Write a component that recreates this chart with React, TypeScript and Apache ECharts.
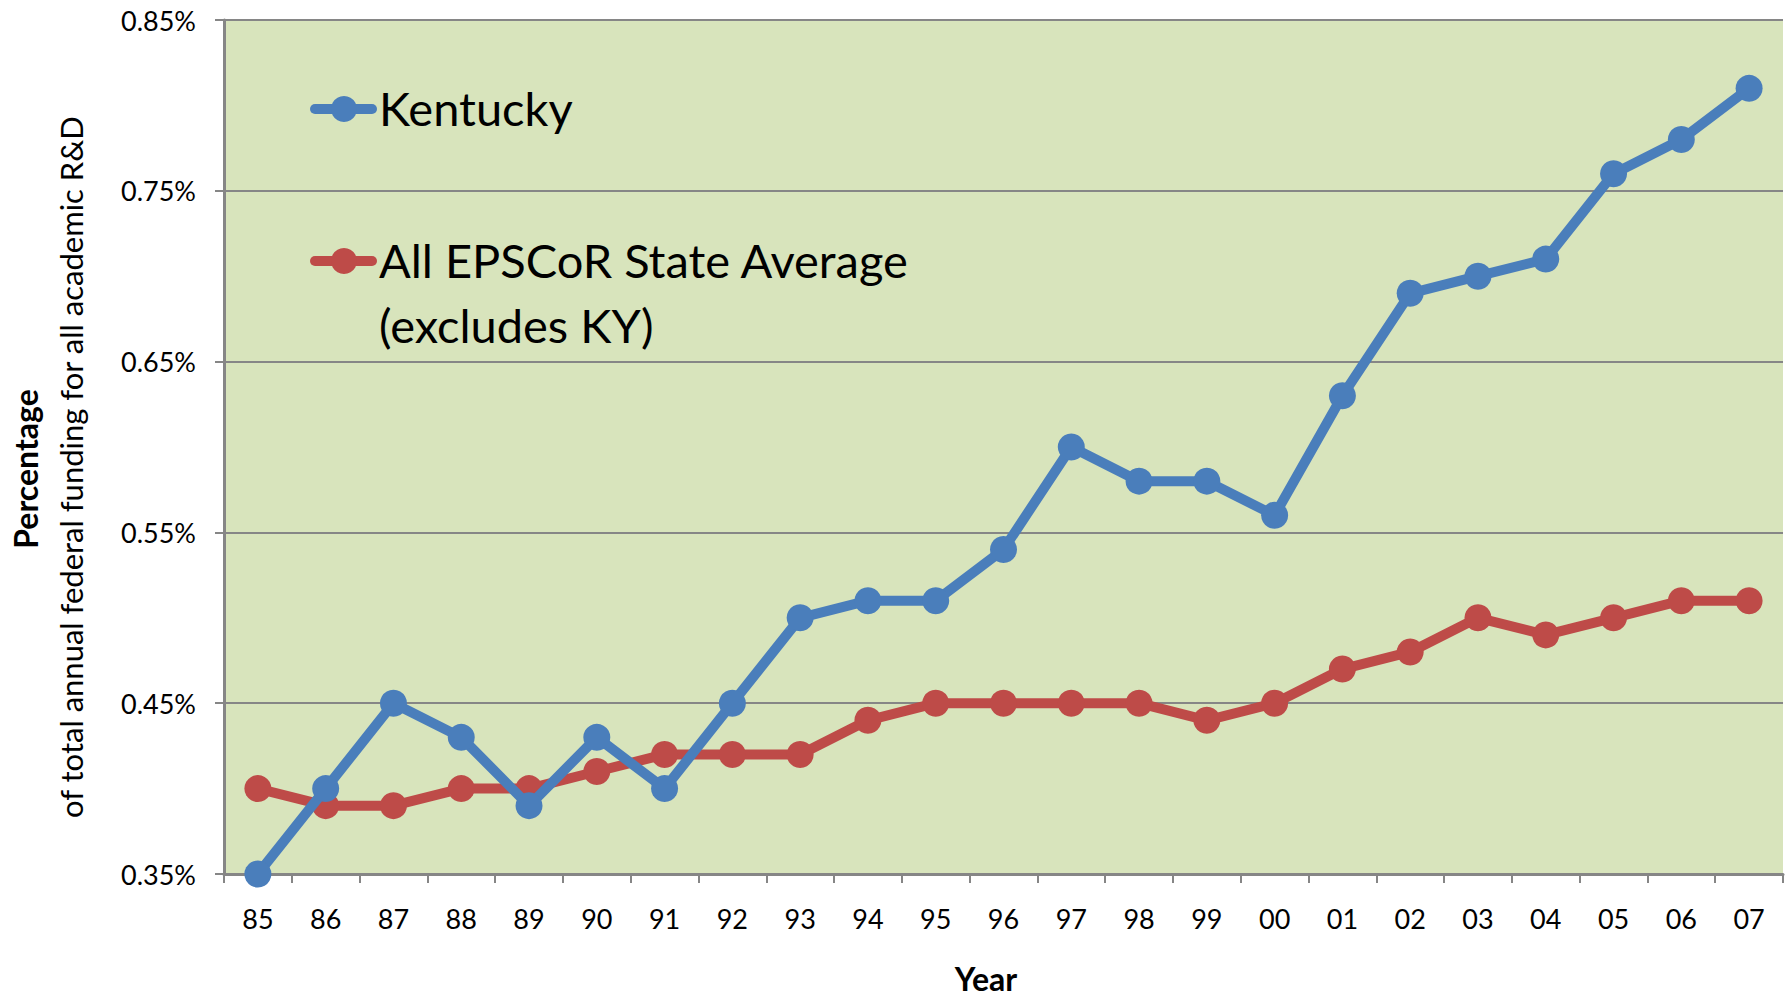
import React, { useEffect, useRef } from "react";
import * as echarts from "echarts";

const years = ["85","86","87","88","89","90","91","92","93","94","95","96","97","98","99","00","01","02","03","04","05","06","07"];
const kentucky = [0.35,0.40,0.45,0.43,0.39,0.43,0.40,0.45,0.50,0.51,0.51,0.54,0.60,0.58,0.58,0.56,0.63,0.69,0.70,0.71,0.76,0.78,0.81];
const epscor = [0.40,0.39,0.39,0.40,0.40,0.41,0.42,0.42,0.42,0.44,0.45,0.45,0.45,0.45,0.44,0.45,0.47,0.48,0.50,0.49,0.50,0.51,0.51];
const yTicks = { min: 0.35, max: 0.85, interval: 0.1 };

const BLUE = "#4A7EBB";
const RED = "#BE4B48";
const FONT = "Lato";

export default function App() {
  const ref = useRef<HTMLDivElement>(null);
  useEffect(() => {
    const chart = echarts.init(ref.current!, null, { renderer: "svg" });
    const gridLeft = 224, gridTop = 20, gridRight = 2, gridBottom = 122;
    const legendIcon = (cy: number, color: string) => [
      { type: "line", shape: { x1: 315, y1: cy, x2: 372, y2: cy }, style: { stroke: color, lineWidth: 10, lineCap: "round" } },
      { type: "circle", shape: { cx: 344, cy, r: 13 }, style: { fill: color } },
    ];
    chart.setOption({
      animation: false,
      backgroundColor: "#ffffff",
      textStyle: { fontFamily: FONT },
      grid: { left: gridLeft, top: gridTop, right: gridRight, bottom: gridBottom, show: true, backgroundColor: "#D8E4BC", borderWidth: 0 },
      xAxis: {
        type: "category",
        data: years,
        boundaryGap: true,
        axisLine: { lineStyle: { color: "#868686", width: 3 } },
        axisTick: { show: true, length: 9, lineStyle: { color: "#868686", width: 2 }, interval: 0 },
        axisLabel: { color: "#000", fontSize: 27, margin: 31, fontFamily: FONT, interval: 0 },
        splitLine: { show: false },
      },
      yAxis: {
        type: "value",
        min: yTicks.min,
        max: yTicks.max,
        interval: yTicks.interval,
        axisLine: { show: true, lineStyle: { color: "#868686", width: 3 } },
        axisTick: { show: true, length: 9, lineStyle: { color: "#868686", width: 2 } },
        axisLabel: { color: "#000", fontSize: 27, margin: 28, fontFamily: FONT, formatter: (v: number) => v.toFixed(2) + "%" },
        splitLine: { show: true, lineStyle: { color: "#868686", width: 2 } },
      },
      series: [
        {
          name: "Kentucky", type: "line", data: kentucky, color: BLUE,
          lineStyle: { width: 10, color: BLUE }, symbol: "circle", symbolSize: 27,
          itemStyle: { color: BLUE }, z: 3,
        },
        {
          name: "All EPSCoR State Average (excludes KY)", type: "line", data: epscor, color: RED,
          lineStyle: { width: 10, color: RED }, symbol: "circle", symbolSize: 27,
          itemStyle: { color: RED }, z: 2,
        },
      ],
      graphic: [
        ...legendIcon(109, BLUE),
        ...legendIcon(261, RED),
        { type: "text", x: 379, y: 108, style: { text: "Kentucky", font: `47px ${FONT}`, fill: "#000", textVerticalAlign: "middle" } },
        { type: "text", x: 379, y: 260, style: { text: "All EPSCoR State Average", font: `47px ${FONT}`, fill: "#000", textVerticalAlign: "middle" } },
        { type: "text", x: 379, y: 325, style: { text: "(excludes KY)", font: `47px ${FONT}`, fill: "#000", textVerticalAlign: "middle" } },
        { type: "text", x: 25, y: 469, rotation: Math.PI / 2, style: { text: "Percentage", font: `bold 32px ${FONT}`, fill: "#000", textAlign: "center", textVerticalAlign: "middle" } },
        { type: "text", x: 71, y: 467, rotation: Math.PI / 2, style: { text: "of total annual federal funding for all academic R&D", font: `31px ${FONT}`, fill: "#000", textAlign: "center", textVerticalAlign: "middle" } },
        { type: "text", x: 986, y: 978, style: { text: "Year", font: `bold 32px ${FONT}`, fill: "#000", textAlign: "center", textVerticalAlign: "middle" } },
      ],
    });
    return () => chart.dispose();
  }, []);
  return <div ref={ref} style={{ position: "fixed", left: 0, top: 0, width: 1785, height: 996 }} />;
}
